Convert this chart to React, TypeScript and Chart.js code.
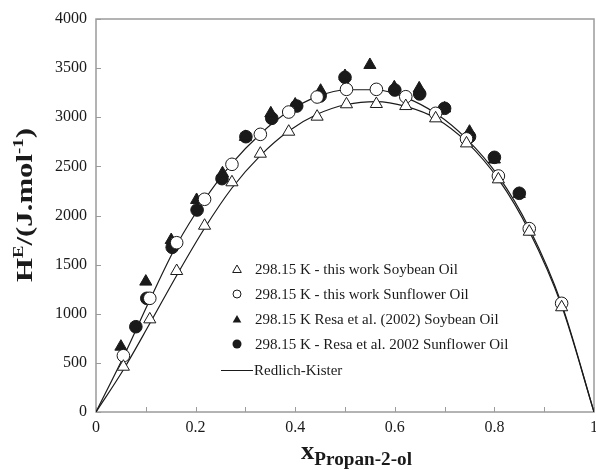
import React, { useEffect, useRef } from 'react';
import { Chart, registerables } from 'chart.js';

Chart.register(...registerables);

// ---- Data ----
const xThisWork = [0.055, 0.108, 0.162, 0.218, 0.273, 0.33, 0.387, 0.444, 0.503, 0.563, 0.622, 0.682, 0.744, 0.808, 0.87, 0.935];
const soybeanThisWork = [461, 943, 1435, 1896, 2338, 2629, 2853, 3006, 3132, 3135, 3114, 2989, 2734, 2368, 1835, 1066];
const sunflowerThisWork = [573, 1157, 1723, 2165, 2521, 2826, 3053, 3206, 3284, 3284, 3209, 3040, 2780, 2402, 1866, 1106];

const xResaSoybean = [0.05, 0.1, 0.151, 0.202, 0.254, 0.3, 0.351, 0.4, 0.451, 0.5, 0.55, 0.599, 0.649, 0.7, 0.75, 0.8, 0.85];
const soybeanResa = [665, 1327, 1750, 2158, 2430, 2800, 3040, 3130, 3270, 3420, 3532, 3305, 3294, 3090, 2853, 2570, 2220];

const xResaSunflower = [0.08, 0.102, 0.153, 0.203, 0.253, 0.301, 0.353, 0.403, 0.45, 0.5, 0.6, 0.65, 0.7, 0.75, 0.8, 0.85];
const sunflowerResa = [868, 1157, 1676, 2056, 2375, 2802, 2989, 3114, 3216, 3406, 3277, 3237, 3091, 2802, 2592, 2226];

const xCurve = [0, 0.055, 0.108, 0.162, 0.218, 0.273, 0.33, 0.387, 0.444, 0.503, 0.563, 0.622, 0.682, 0.744, 0.808, 0.87, 0.935, 1];
const soybeanCurve = [0, 430, 900, 1390, 1870, 2280, 2610, 2860, 3030, 3130, 3160, 3110, 2990, 2750, 2370, 1840, 1080, 0];
const sunflowerCurve = [0, 560, 1140, 1700, 2160, 2530, 2830, 3060, 3210, 3280, 3280, 3200, 3040, 2780, 2400, 1870, 1100, 0];

const legendLabels = [
  '298.15 K - this work Soybean Oil',
  '298.15 K - this work Sunflower Oil',
  '298.15 K Resa et al. (2002) Soybean Oil',
  '298.15 K - Resa et al. 2002 Sunflower Oil',
  'Redlich-Kister',
];

const FONT = '"Liberation Serif", "Times New Roman", serif';
const AXIS_GRAY = '#9b9b9b';
const INK = '#1a1a1a';

const pts = (xs: number[], ys: number[]) => xs.map((x, i) => ({ x, y: ys[i] }));

const xTickText = (v: number) => {
  const k = Math.round(v * 10);
  if (k % 2 !== 0) return '';
  if (k === 0) return '0';
  if (k === 10) return '1';
  return (k / 10).toFixed(1);
};

type Seg = { t: string; size: number; dy: number };

function drawRich(ctx: CanvasRenderingContext2D, segs: Seg[], targetWidth: number) {
  let total = 0;
  const widths = segs.map((s) => {
    ctx.font = `bold ${s.size}px ${FONT}`;
    const w = ctx.measureText(s.t).width;
    total += w;
    return w;
  });
  ctx.scale(targetWidth / total, 1);
  let x = 0;
  segs.forEach((s, i) => {
    ctx.font = `bold ${s.size}px ${FONT}`;
    ctx.fillText(s.t, x, s.dy);
    x += widths[i];
  });
}

function triangle(ctx: CanvasRenderingContext2D, x: number, y: number, r: number) {
  ctx.beginPath();
  ctx.moveTo(x, y - r);
  ctx.lineTo(x + r * Math.sin((2 * Math.PI) / 3), y + r / 2);
  ctx.lineTo(x - r * Math.sin((2 * Math.PI) / 3), y + r / 2);
  ctx.closePath();
}

const decorPlugin = {
  id: 'decor',
  beforeDatasetsDraw(chart: any) {
    const { ctx, chartArea: a, scales } = chart;
    ctx.save();
    ctx.strokeStyle = AXIS_GRAY;
    ctx.lineWidth = 1.5;
    ctx.strokeRect(a.left, a.top, a.right - a.left, a.bottom - a.top);
    ctx.lineWidth = 1;
    ctx.beginPath();
    scales.x.ticks.forEach((t: any) => {
      const px = Math.round(scales.x.getPixelForValue(t.value)) + 0.5;
      ctx.moveTo(px, a.bottom);
      ctx.lineTo(px, a.bottom - 5);
    });
    scales.y.ticks.forEach((t: any) => {
      const py = Math.round(scales.y.getPixelForValue(t.value)) + 0.5;
      ctx.moveTo(a.left, py);
      ctx.lineTo(a.left + 5, py);
    });
    ctx.stroke();
    // x tick labels
    ctx.fillStyle = INK;
    ctx.font = `16px ${FONT}`;
    ctx.textAlign = 'center';
    ctx.textBaseline = 'top';
    scales.x.ticks.forEach((t: any) => {
      const s = xTickText(t.value);
      if (s) ctx.fillText(s, scales.x.getPixelForValue(t.value), a.bottom + 8);
    });
    ctx.restore();
  },
  afterDraw(chart: any) {
    const { ctx, chartArea: a } = chart;
    ctx.save();
    ctx.fillStyle = INK;
    ctx.strokeStyle = INK;
    ctx.textBaseline = 'alphabetic';

    // Y title
    ctx.save();
    ctx.translate(32, 282);
    ctx.rotate(-Math.PI / 2);
    drawRich(
      ctx,
      [
        { t: 'H', size: 23, dy: 0 },
        { t: 'E', size: 14, dy: -9 },
        { t: '/(J.mol', size: 23, dy: 0 },
        { t: '-1', size: 14, dy: -9 },
        { t: ')', size: 23, dy: 0 },
      ],
      154
    );
    ctx.restore();

    // X title
    ctx.save();
    ctx.translate(301, 459);
    drawRich(
      ctx,
      [
        { t: 'x', size: 25, dy: 0 },
        { t: 'Propan-2-ol', size: 18, dy: 6 },
      ],
      111
    );
    ctx.restore();

    // Legend
    const mx = a.left + 141;
    const tx = a.left + 159;
    const rowY = [269, 294, 319, 344, 370];
    ctx.font = `15px ${FONT}`;
    ctx.textBaseline = 'middle';
    ctx.lineWidth = 1;
    triangle(ctx, mx, rowY[0] + 1, 5);
    ctx.fillStyle = '#fff';
    ctx.fill();
    ctx.stroke();
    ctx.beginPath();
    ctx.arc(mx, rowY[1], 4, 0, Math.PI * 2);
    ctx.fill();
    ctx.stroke();
    ctx.fillStyle = INK;
    triangle(ctx, mx, rowY[2] + 1, 5);
    ctx.fill();
    ctx.beginPath();
    ctx.arc(mx, rowY[3], 4.5, 0, Math.PI * 2);
    ctx.fill();
    ctx.beginPath();
    ctx.moveTo(a.left + 125, rowY[4] + 0.5);
    ctx.lineTo(a.left + 157, rowY[4] + 0.5);
    ctx.stroke();
    legendLabels.forEach((lbl, i) => {
      ctx.fillText(lbl, i === 4 ? a.left + 158 : tx, rowY[i] + 1);
    });
    ctx.restore();
  },
};

export default function App() {
  const ref = useRef<HTMLCanvasElement | null>(null);

  useEffect(() => {
    document.body.style.margin = '0';
    const canvas = ref.current;
    if (!canvas) return;
    const chart = new Chart(canvas, {
      type: 'scatter',
      data: {
        datasets: [
          {
            label: legendLabels[0],
            data: pts(xThisWork, soybeanThisWork),
            pointStyle: 'triangle',
            pointRadius: 7,
            pointBackgroundColor: '#ffffff',
            pointBorderColor: INK,
            pointBorderWidth: 1,
            showLine: false,
          },
          {
            label: legendLabels[1],
            data: pts(xThisWork, sunflowerThisWork),
            pointStyle: 'circle',
            pointRadius: 6.3,
            pointBackgroundColor: '#ffffff',
            pointBorderColor: INK,
            pointBorderWidth: 1,
            showLine: false,
          },
          {
            label: legendLabels[2],
            data: pts(xResaSoybean, soybeanResa),
            pointStyle: 'triangle',
            pointRadius: 7,
            pointBackgroundColor: INK,
            pointBorderColor: INK,
            pointBorderWidth: 1,
            showLine: false,
          },
          {
            label: legendLabels[3],
            data: pts(xResaSunflower, sunflowerResa),
            pointStyle: 'circle',
            pointRadius: 6.3,
            pointBackgroundColor: INK,
            pointBorderColor: INK,
            pointBorderWidth: 1,
            showLine: false,
          },
          {
            label: legendLabels[4],
            data: pts(xCurve, soybeanCurve),
            showLine: true,
            pointRadius: 0,
            borderColor: INK,
            borderWidth: 1.2,
            cubicInterpolationMode: 'monotone',
          },
          {
            label: legendLabels[4] + ' (sunflower)',
            data: pts(xCurve, sunflowerCurve),
            showLine: true,
            pointRadius: 0,
            borderColor: INK,
            borderWidth: 1.2,
            cubicInterpolationMode: 'monotone',
          },
        ],
      },
      options: {
        animation: false,
        responsive: false,
        layout: { autoPadding: false, padding: { left: 0, right: 2, top: 19, bottom: 0 } },
        plugins: { legend: { display: false }, tooltip: { enabled: false } },
        scales: {
          x: {
            type: 'linear',
            min: 0,
            max: 1,
            grid: { display: false, drawTicks: false },
            border: { display: false },
            ticks: { stepSize: 0.1, display: false },
            afterFit: (s: any) => {
              s.height = 58;
            },
          },
          y: {
            type: 'linear',
            min: 0,
            max: 4000,
            grid: { display: false, drawTicks: false },
            border: { display: false },
            ticks: {
              stepSize: 500,
              padding: 9,
              color: INK,
              font: { family: FONT, size: 16 },
              callback: (v: any) => String(Math.round(Number(v))),
            },
            afterFit: (s: any) => {
              s.width = 96;
            },
          },
        },
      },
      plugins: [decorPlugin],
    } as any);
    return () => chart.destroy();
  }, []);

  return (
    <div style={{ width: 596, height: 470, background: '#fff' }}>
      <canvas ref={ref} width={596} height={470} style={{ display: 'block' }} />
    </div>
  );
}
